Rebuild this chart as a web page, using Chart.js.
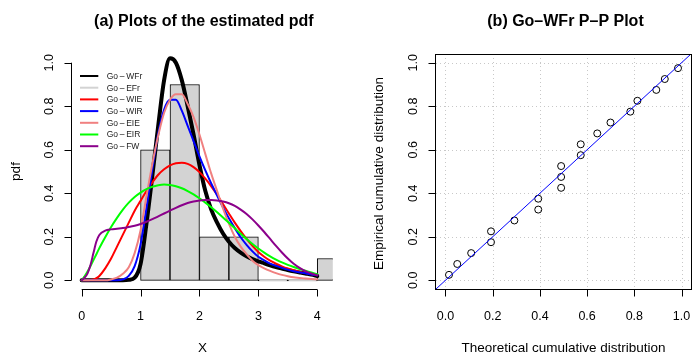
<!DOCTYPE html>
<html>
<head>
<meta charset="utf-8">
<script src="https://cdn.jsdelivr.net/npm/chart.js@4.4.1/dist/chart.umd.min.js"></script>
<style>
html,body{margin:0;padding:0;background:#fff;}
#wrap{position:relative;width:696px;height:352px;overflow:hidden;}
#c1{position:absolute;left:0;top:0;}
#c2{position:absolute;left:348px;top:0;}
</style>
</head>
<body>
<div id="wrap">
<canvas id="c1" width="348" height="352"></canvas>
<canvas id="c2" width="348" height="352"></canvas>
</div>
<script>
// ---------------- Panel (a): estimated pdfs ----------------
const xGrid = [0,0.05,0.1,0.15,0.2,0.25,0.3,0.4,0.5,0.6,0.7,0.8,0.9,1.0,1.1,1.2,1.3,1.4,1.5,1.6,1.7,1.8,1.9,2.0,2.1,2.2,2.3,2.4,2.5,2.6,2.7,2.8,2.9,3.0,3.1,3.2,3.3,3.4,3.5,3.6,3.7,3.8,3.9,4.0];
const pdfGoWFr = [0,0,0,0,0,0,0,0,0,0,0,0.002,0.012,0.075,0.26,0.48,0.71,0.92,1.02,1.0,0.92,0.80,0.67,0.53,0.41,0.325,0.265,0.215,0.177,0.148,0.127,0.11,0.097,0.087,0.078,0.069,0.061,0.054,0.047,0.041,0.036,0.031,0.026,0.02];
const pdfGoWIE = [0,0,0,0.001,0.004,0.01,0.02,0.055,0.10,0.155,0.21,0.265,0.32,0.365,0.41,0.45,0.485,0.51,0.528,0.538,0.54,0.535,0.52,0.497,0.467,0.432,0.393,0.35,0.307,0.265,0.226,0.19,0.158,0.13,0.108,0.09,0.076,0.064,0.054,0.046,0.039,0.033,0.028,0.023];
const pdfGoWIR = [0,0,0,0,0,0,0,0,0,0,0.004,0.02,0.065,0.165,0.33,0.51,0.675,0.785,0.83,0.83,0.78,0.71,0.64,0.57,0.505,0.445,0.39,0.335,0.285,0.24,0.198,0.163,0.133,0.108,0.092,0.077,0.066,0.057,0.049,0.042,0.037,0.032,0.027,0.023];
const pdfGoEIE = [0,0,0,0,0,0,0,0,0.004,0.012,0.03,0.06,0.125,0.23,0.385,0.535,0.665,0.77,0.83,0.855,0.855,0.81,0.75,0.67,0.58,0.49,0.41,0.33,0.26,0.20,0.155,0.12,0.09,0.07,0.055,0.043,0.033,0.025,0.019,0.014,0.011,0.008,0.006,0.005];
const pdfGoEIR = [0,0.018,0.04,0.066,0.093,0.12,0.148,0.198,0.245,0.287,0.325,0.357,0.383,0.403,0.419,0.43,0.437,0.44,0.438,0.432,0.423,0.41,0.395,0.377,0.357,0.336,0.313,0.289,0.264,0.239,0.214,0.19,0.167,0.146,0.127,0.11,0.095,0.082,0.071,0.061,0.052,0.044,0.036,0.028];
const pdfGoFW  = [0,0.012,0.032,0.07,0.125,0.178,0.208,0.228,0.234,0.237,0.24,0.245,0.251,0.259,0.269,0.281,0.294,0.307,0.32,0.333,0.345,0.355,0.362,0.367,0.369,0.369,0.367,0.362,0.354,0.342,0.325,0.305,0.28,0.252,0.222,0.19,0.158,0.128,0.10,0.076,0.057,0.042,0.031,0.023];
const histMid = [1.25,1.75,2.25,2.75,3.25,3.75,4.25];
const histDensity = [0.6,0.9,0.2,0.2,0,0,0.1];
const pdfXTicks = [0,1,2,3,4];
const pdfYTicks = [0,0.2,0.4,0.6,0.8,1.0];
const seriesNames = ['Go\u2009\u2013\u2009WFr','Go\u2009\u2013\u2009EFr','Go\u2009\u2013\u2009WIE','Go\u2009\u2013\u2009WIR','Go\u2009\u2013\u2009EIE','Go\u2009\u2013\u2009EIR','Go\u2009\u2013\u2009FW'];

// ---------------- Panel (b): P-P plot ----------------
const ppTheoretical = [0.015,0.05,0.109,0.193,0.193,0.292,0.393,0.393,0.49,0.49,0.49,0.573,0.573,0.643,0.699,0.783,0.813,0.893,0.929,0.985];
const ppEmpirical = [0.025,0.075,0.125,0.175,0.225,0.275,0.325,0.375,0.425,0.475,0.525,0.575,0.625,0.675,0.725,0.775,0.825,0.875,0.925,0.975];
const ppTicks = [0,0.2,0.4,0.6,0.8,1.0];

// ---------------- styling / helpers ----------------
const FONT = '"Liberation Sans", Arial, Helvetica, sans-serif';
const TICK_FONT = '12.5px ' + FONT;
const LAB_FONT = '13.5px ' + FONT;
const TITLE_FONT = 'bold 16px ' + FONT;

function pts(ys) { return xGrid.map((x, i) => ({x: x, y: ys[i]})); }
function txt(ctx, s, x, y, font, align, baseline, rot) {
  ctx.save();
  ctx.font = font; ctx.fillStyle = '#000';
  ctx.textAlign = align || 'center'; ctx.textBaseline = baseline || 'alphabetic';
  ctx.translate(x, y); if (rot) ctx.rotate(rot);
  ctx.fillText(s, 0, 0);
  ctx.restore();
}
function seg(ctx, x1, y1, x2, y2) { ctx.beginPath(); ctx.moveTo(x1, y1); ctx.lineTo(x2, y2); ctx.stroke(); }
function fixedTicks(arr) { return s => { s.ticks = arr.map(v => ({value: v})); }; }

function drawLeftAxis(ctx, ca, ys, ticks) {
  const ax = Math.floor(ca.left) - 0.5;
  seg(ctx, ax, ys.getPixelForValue(ticks[0]), ax, ys.getPixelForValue(ticks[ticks.length - 1]));
  ticks.forEach(v => {
    const y = Math.round(ys.getPixelForValue(v)) + 0.5;
    seg(ctx, ax, y, ax - 7, y);
    txt(ctx, v.toFixed(1), ca.left - 19.5, ys.getPixelForValue(v), TICK_FONT, 'center', 'alphabetic', -Math.PI / 2);
  });
}
function drawBottomAxis(ctx, ca, xs, ticks, fmt) {
  const ay = Math.round(ca.bottom) + 0.5;
  seg(ctx, xs.getPixelForValue(ticks[0]), ay, xs.getPixelForValue(ticks[ticks.length - 1]), ay);
  ticks.forEach(v => {
    const x = Math.round(xs.getPixelForValue(v)) + 0.5;
    seg(ctx, x, ay, x, ay + 7);
    txt(ctx, fmt(v), xs.getPixelForValue(v), ca.bottom + 30.5, TICK_FONT, 'center', 'alphabetic');
  });
}

const pdfDecor = {
  id: 'pdfDecor',
  afterDraw(chart) {
    const {ctx, chartArea: ca, scales: {x, y}} = chart;
    ctx.save();
    ctx.strokeStyle = '#000'; ctx.lineWidth = 1;
    drawLeftAxis(ctx, ca, y, pdfYTicks);
    drawBottomAxis(ctx, ca, x, pdfXTicks, v => String(v));
    const cx = (ca.left + ca.right) / 2;
    txt(ctx, '(a) Plots of the estimated pdf', cx + 1.5, 26, TITLE_FONT, 'center', 'alphabetic');
    txt(ctx, 'X', cx, 351.5, LAB_FONT, 'center', 'alphabetic');
    txt(ctx, 'pdf', 16, (ca.top + ca.bottom) / 2, LAB_FONT, 'center', 'middle', -Math.PI / 2);
    // legend (no box), drawn from dataset labels/colours
    const items = chart.data.datasets.filter(d => d.inLegend);
    items.forEach((d, i) => {
      const yy = ca.top + 22 + i * 11.7;
      ctx.strokeStyle = d.borderColor; ctx.lineWidth = 2;
      seg(ctx, ca.left + 8, yy, ca.left + 26.3, yy);
      ctx.font = '8.5px ' + FONT; ctx.fillStyle = '#222';
      ctx.textAlign = 'left'; ctx.textBaseline = 'middle';
      ctx.fillText(d.label, ca.left + 34.7, yy + 0.5);
    });
    ctx.restore();
  }
};

function curve(label, ys, color, width, order) {
  return {type: 'line', label: label, data: ys ? pts(ys) : [], borderColor: color, backgroundColor: color,
    borderWidth: width, pointRadius: 0, cubicInterpolationMode: 'monotone', fill: false,
    borderJoinStyle: 'round', borderCapStyle: 'round', order: order, inLegend: true};
}

new Chart(document.getElementById('c1'), {
  type: 'scatter',
  data: {datasets: [
    {type: 'bar', label: 'hist', data: histMid.map((m, i) => ({x: m, y: histDensity[i]})),
      backgroundColor: '#D3D3D3', borderColor: '#000', borderWidth: 1, borderSkipped: false,
      barPercentage: 1, categoryPercentage: 1, minBarLength: 1, clip: 0, order: 20},
    curve(seriesNames[0], pdfGoWFr, '#000000', 4, 7),
    curve(seriesNames[1], null, '#D3D3D3', 2, 6),
    curve(seriesNames[2], pdfGoWIE, '#FF0000', 2, 5),
    curve(seriesNames[3], pdfGoWIR, '#0000FF', 2, 4),
    curve(seriesNames[4], pdfGoEIE, '#F08080', 2, 3),
    curve(seriesNames[5], pdfGoEIR, '#00FF00', 2, 2),
    curve(seriesNames[6], pdfGoFW, '#8B008B', 2, 1)
  ]},
  options: {
    responsive: false, animation: false, devicePixelRatio: 1, events: [],
    layout: {padding: {left: 72, right: 15.2, top: 54, bottom: 63}},
    scales: {
      x: {type: 'linear', offset: false, grid: {offset: false}, min: -0.164, max: 4.264, display: false, afterBuildTicks: fixedTicks(pdfXTicks)},
      y: {type: 'linear', offset: false, min: -0.04, max: 1.04, display: false, afterBuildTicks: fixedTicks(pdfYTicks)}
    },
    plugins: {legend: {display: false}, tooltip: {enabled: false}, title: {display: false}}
  },
  plugins: [pdfDecor]
});

// ---------------- Panel (b) chart ----------------
const PP_MIN = -0.04, PP_MAX = 1.04;
const ppDecor = {
  id: 'ppDecor',
  beforeDatasetsDraw(chart) {
    const {ctx, chartArea: ca, scales: {x, y}} = chart;
    ctx.save();
    ctx.strokeStyle = '#C8C8C8'; ctx.lineWidth = 1; ctx.setLineDash([1, 3]);
    ppTicks.forEach(v => {
      const px = Math.round(x.getPixelForValue(v)) + 0.5;
      seg(ctx, px, ca.top, px, ca.bottom);
      const py = Math.round(y.getPixelForValue(v)) + 0.5;
      seg(ctx, ca.left, py, ca.right, py);
    });
    ctx.restore();
  },
  afterDraw(chart) {
    const {ctx, chartArea: ca, scales: {x, y}} = chart;
    ctx.save();
    ctx.strokeStyle = '#000'; ctx.lineWidth = 1;
    const l = Math.floor(ca.left) - 0.5, t = Math.round(ca.top) + 0.5, b = Math.round(ca.bottom) + 0.5;
    ctx.strokeRect(l, t, ca.right + 0.5 - l, b - t);
    ppTicks.forEach(v => {
      const py = Math.round(y.getPixelForValue(v)) + 0.5;
      seg(ctx, l, py, l - 7, py);
      txt(ctx, v.toFixed(1), ca.left - 19.5, y.getPixelForValue(v), TICK_FONT, 'center', 'alphabetic', -Math.PI / 2);
      const px = Math.round(x.getPixelForValue(v)) + 0.5;
      seg(ctx, px, b, px, b + 7);
      txt(ctx, v.toFixed(1), x.getPixelForValue(v), ca.bottom + 30.5, TICK_FONT, 'center', 'alphabetic');
    });
    const cx = (ca.left + ca.right) / 2;
    txt(ctx, '(b) Go\u2013WFr P\u2013P Plot', cx + 2, 26, TITLE_FONT, 'center', 'alphabetic');
    txt(ctx, 'Theoretical cumulative distribution', cx, 351.5, LAB_FONT, 'center', 'alphabetic');
    txt(ctx, 'Empirical cumulative distribution', 31, (ca.top + ca.bottom) / 2 + 2, LAB_FONT, 'center', 'middle', -Math.PI / 2);
    ctx.restore();
  }
};

new Chart(document.getElementById('c2'), {
  type: 'scatter',
  data: {datasets: [
    {type: 'line', label: 'y = x', data: [PP_MIN, PP_MAX].map(v => ({x: v, y: v})),
      borderColor: '#0000FF', borderWidth: 1, pointRadius: 0, fill: false, order: 1},
    {type: 'scatter', label: 'P-P', data: ppTheoretical.map((t, i) => ({x: t, y: ppEmpirical[i]})),
      pointRadius: 3.5, pointBackgroundColor: 'rgba(0,0,0,0)', pointBorderColor: '#000', pointBorderWidth: 1, order: 2}
  ]},
  options: {
    responsive: false, animation: false, devicePixelRatio: 1, events: [],
    layout: {padding: {left: 88, right: 0, top: 54, bottom: 63}},
    scales: {
      x: {type: 'linear', min: PP_MIN, max: PP_MAX, display: false, afterBuildTicks: fixedTicks(ppTicks)},
      y: {type: 'linear', min: PP_MIN, max: PP_MAX, display: false, afterBuildTicks: fixedTicks(ppTicks)}
    },
    plugins: {legend: {display: false}, tooltip: {enabled: false}, title: {display: false}}
  },
  plugins: [ppDecor]
});
</script>
</body>
</html>
